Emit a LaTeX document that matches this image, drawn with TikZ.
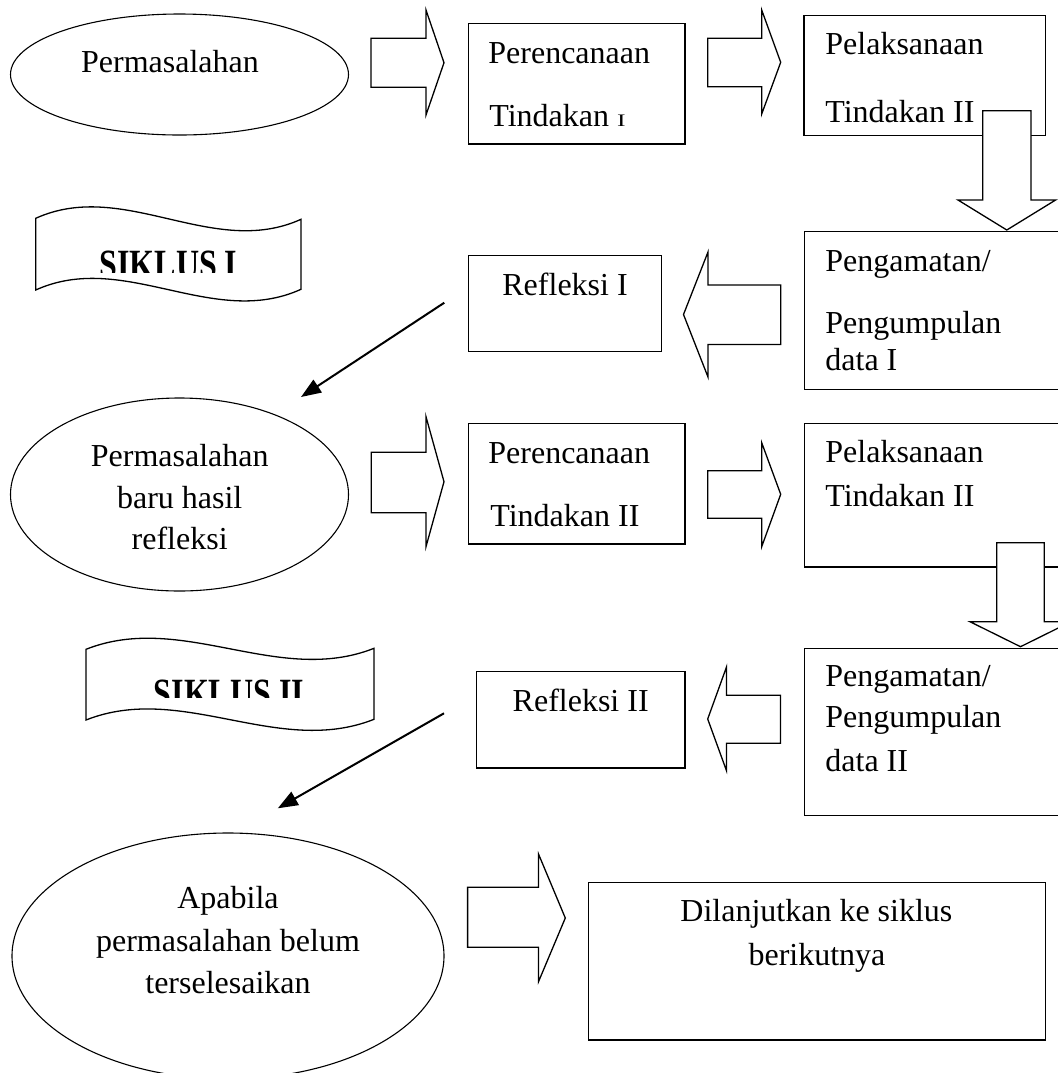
\documentclass[tikz,border=0pt]{standalone}
\usepackage{graphicx}
\usepackage{fontspec}
\setmainfont{Liberation Serif}
\usetikzlibrary{shapes.geometric,arrows.meta}
\begin{document}
\begin{tikzpicture}[x=0.5pt,y=-0.5pt,
  box/.style={draw,line width=0.65pt,rectangle,inner sep=0pt,anchor=north west},
  oval/.style={draw,line width=0.55pt,ellipse,inner sep=0pt},
  txt/.style={inner sep=0pt,anchor=base west,font=\fontsize{16}{18}\selectfont},
  ctxt/.style={inner sep=0pt,anchor=base,font=\fontsize{16}{18}\selectfont},
  btxt/.style={inner sep=0pt,anchor=base,font=\fontsize{16}{18}\selectfont\bfseries},
  barrow/.style={draw,fill=white,line width=0.65pt,line join=miter},
  diag/.style={line width=1pt,-{Triangle[length=10pt,width=7.5pt]}},
  banner/.style={draw,line width=0.65pt}]
\useasboundingbox (0,0) rectangle (1058,1073);
\clip (0,0) rectangle (1058,1073);

% ---------- ellipses ----------
\node[oval,minimum width=169pt,minimum height=60.5pt] (e1) at (179.5,74.5) {};
\node[ctxt] (e1t) at (170,72) {Permasalahan};

\node[oval,minimum width=169pt,minimum height=96.5pt] (e2) at (179.5,494.5) {};
\node[ctxt] (e2a) at (179.7,466.7) {Permasalahan};
\node[ctxt] (e2b) at (179.7,508.3) {baru hasil};
\node[ctxt] (e2c) at (179.7,549.3) {refleksi};

\node[oval,minimum width=216pt,minimum height=123pt] (e3) at (228,956) {};
\node[ctxt] (e3a) at (228,908.3) {Apabila};
\node[ctxt] (e3b) at (228,951.7) {permasalahan belum};
\node[ctxt] (e3c) at (228,993.3) {terselesaikan};

% ---------- boxes ----------
\node[box,minimum width=108.3pt,minimum height=60.3pt] (b1) at (467.7,22.7) {};
\node[txt] (b1a) at (488,63.3) {Perencanaan};
\node[txt] (b1b) at (489,126.7) {Tindakan \scalebox{0.8}[0.55]{I}};

\node[box,minimum width=120.85pt,minimum height=59.75pt] (b2) at (803.3,15) {};
\node[txt] (b2a) at (825,54) {Pelaksanaan};
\node[txt] (b2b) at (825,122.7) {Tindakan II};

\node[box,minimum width=133pt,minimum height=79.15pt] (b3) at (804,230.7) {};
\node[txt] (b3a) at (825,271.7) {Pengamatan/};
\node[txt] (b3b) at (825,333.3) {Pengumpulan};
\node[txt] (b3c) at (825,370) {data I};

\node[box,minimum width=96.5pt,minimum height=47.85pt] (b4) at (467.7,255) {};
\node[txt] (b4a) at (502,295) {Refleksi I};

\node[box,minimum width=108.3pt,minimum height=60.3pt] (b5) at (467.7,422.7) {};
\node[txt] (b5a) at (488,463.3) {Perencanaan};
\node[txt] (b5b) at (490,526) {Tindakan II};

\node[box,minimum width=133.15pt,minimum height=71.8pt] (b6) at (803.7,422.7) {};
\node[txt] (b6a) at (825,462.7) {Pelaksanaan};
\node[txt] (b6b) at (825,506) {Tindakan II};

\node[box,minimum width=133pt,minimum height=83.65pt] (b7) at (804,647.7) {};
\node[txt] (b7a) at (825,686.7) {Pengamatan/};
\node[txt] (b7b) at (825,727.5) {Pengumpulan};
\node[txt] (b7c) at (825,771.7) {data II};

\node[box,minimum width=104.3pt,minimum height=48.15pt] (b8) at (475.7,671) {};
\node[txt] (b8a) at (512.3,711.7) {Refleksi II};

\node[box,minimum width=228.6pt,minimum height=78.8pt] (b9) at (587.8,881.7) {};
\node[ctxt] (b9a) at (816.4,921.7) {Dilanjutkan ke siklus};
\node[ctxt] (b9b) at (817,965) {berikutnya};

% ---------- block arrows (right) ----------
\draw[barrow] (371,38.3) -- (426,38.3) -- (426,10) -- (444,62.7) -- (426,115) -- (426,87.3) -- (371,87.3) -- cycle;
\draw[barrow] (707.7,38.3) -- (761.7,38.3) -- (761.7,10) -- (780.7,62.3) -- (761.7,114) -- (761.7,86.7) -- (707.7,86.7) -- cycle;
\draw[barrow] (371.2,452.3) -- (426,452.3) -- (426,416.7) -- (444,481.7) -- (426,546.7) -- (426,512.7) -- (371.2,512.7) -- cycle;
\draw[barrow] (707.7,470.7) -- (761.7,470.7) -- (761.7,442.7) -- (780.7,494.3) -- (761.7,546.7) -- (761.7,518.3) -- (707.7,518.3) -- cycle;
\draw[barrow] (467.6,887.3) -- (538.5,887.3) -- (538.5,854) -- (565.3,918) -- (538.5,981.7) -- (538.5,947.3) -- (467.6,947.3) -- cycle;

% ---------- block arrows (left) ----------
\draw[barrow] (780.7,285) -- (708,285) -- (708,252) -- (683.5,314.5) -- (708,377) -- (708,344.5) -- (780.7,344.5) -- cycle;
\draw[barrow] (780.5,695.2) -- (726.5,695.2) -- (726.5,667) -- (707.7,719) -- (726.5,770.7) -- (726.5,743.3) -- (780.5,743.3) -- cycle;

% ---------- block arrows (down) ----------
\draw[barrow] (982.7,110.7) -- (1031,110.7) -- (1031,200) -- (1055.6,200) -- (1006.8,230) -- (958,200) -- (982.7,200) -- cycle;
\draw[barrow] (996.7,542.7) -- (1044.3,542.7) -- (1044.3,621.7) -- (1071,621.7) -- (1020.5,646.7) -- (970,621.7) -- (996.7,621.7) -- cycle;

% ---------- banners ----------
\draw[banner] (35.7,218.3) .. controls (124.1,178.3) and (212.6,259.3) .. (301,219.3) -- (301,289.3) .. controls (212.6,329.3) and (124.1,250) .. (35.7,290) -- cycle;
\begin{scope}
\clip (40,230) rectangle (296,272.5);
\node[btxt] (s1) at (168.5,278.5) {\scalebox{1}[1.3]{SIKLUS I}};
\end{scope}

\draw[banner] (86,649.3) .. controls (182,611.3) and (278,686.3) .. (374,648.3) -- (374,719.3) .. controls (278,757.3) and (182,682) .. (86,720) -- cycle;
\begin{scope}
\clip (90,665) rectangle (370,697.3);
\node[btxt] (s2) at (229,707.5) {\scalebox{1}[1.3]{SIKLUS II}};
\end{scope}

% ---------- diagonal arrows ----------
\coordinate (d1s) at (444.3,302.7);
\coordinate (d1e) at (301,397);
\draw[diag] (d1s) -- (d1e);
\coordinate (d2s) at (444,713.3);
\coordinate (d2e) at (277.8,808.3);
\draw[diag] (d2s) -- (d2e);
\end{tikzpicture}
\end{document}
